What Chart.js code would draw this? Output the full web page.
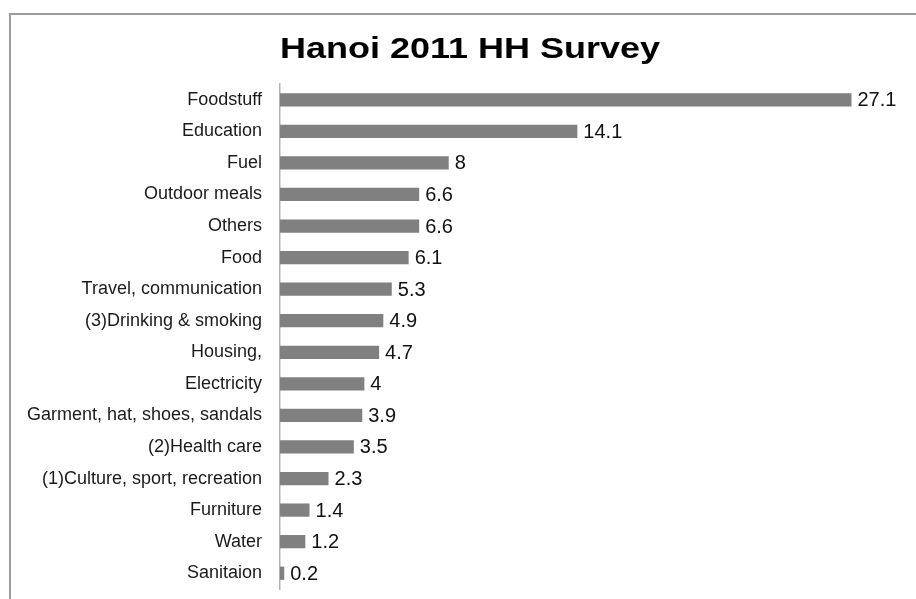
<!DOCTYPE html>
<html>
<head>
<meta charset="utf-8">
<title>Hanoi 2011 HH Survey</title>
<script src="https://cdn.jsdelivr.net/npm/chart.js@4.4.1/dist/chart.umd.min.js"></script>
<style>
    html, body { margin: 0; padding: 0; background: #fff; overflow: hidden; }
    .wrap { position: relative; width: 916px; height: 599px; overflow: hidden; }
    .frame {
        position: absolute; left: 9px; top: 13px; right: -10px; bottom: -10px;
        border: 2px solid #9c9c9c;
    }
    #surveyChart { position: absolute; left: 0; top: 0; }
</style>
</head>
<body>
<div class="wrap">
    <div class="frame"></div>
    <canvas id="surveyChart" width="916" height="599"></canvas>
</div>
<script>
// Expenditure shares by item (percent)
const titleText = 'Hanoi 2011 HH Survey';
const categories = [
    'Foodstuff', 'Education', 'Fuel', 'Outdoor meals', 'Others', 'Food',
    'Travel, communication', '(3)Drinking & smoking', 'Housing,', 'Electricity',
    'Garment, hat, shoes, sandals', '(2)Health care', '(1)Culture, sport, recreation',
    'Furniture', 'Water', 'Sanitaion'
];
const shares = [27.1, 14.1, 8, 6.6, 6.6, 6.1, 5.3, 4.9, 4.7, 4, 3.9, 3.5, 2.3, 1.4, 1.2, 0.2];
const axisMin = 0;
const axisMax = 29.4;

const FONT = "'Liberation Sans', Arial, sans-serif";

// Title is drawn stretched a little wider than the plain bold face
const stretchedTitle = {
    id: 'stretchedTitle',
    afterDraw(chart) {
        const ctx = chart.ctx;
        ctx.save();
        ctx.translate(470, 58);
        ctx.scale(1.2, 1);
        ctx.font = 'bold 30px ' + FONT;
        ctx.fillStyle = '#000';
        ctx.textAlign = 'center';
        ctx.textBaseline = 'alphabetic';
        ctx.fillText(titleText, 0, 0);
        ctx.restore();
    }
};

// Value printed just past the end of each bar
const barValues = {
    id: 'barValues',
    afterDatasetsDraw(chart) {
        const ctx = chart.ctx;
        const meta = chart.getDatasetMeta(0);
        ctx.save();
        ctx.font = '20px ' + FONT;
        ctx.fillStyle = '#111';
        ctx.textAlign = 'left';
        ctx.textBaseline = 'middle';
        meta.data.forEach((bar, i) => {
            ctx.fillText(String(shares[i]), bar.x + 6, bar.y + 1);
        });
        ctx.restore();
    }
};

new Chart(document.getElementById('surveyChart').getContext('2d'), {
    type: 'bar',
    data: {
        labels: categories,
        datasets: [{
            data: shares,
            backgroundColor: '#808080',
            borderWidth: 0,
            categoryPercentage: 1,
            barPercentage: 0.42
        }]
    },
    options: {
        indexAxis: 'y',
        responsive: false,
        animation: false,
        layout: { padding: { top: 84, right: 16, bottom: 10, left: 0 } },
        plugins: {
            legend: { display: false },
            title: { display: false },
            tooltip: { enabled: false }
        },
        scales: {
            x: {
                display: false,
                min: axisMin,
                max: axisMax
            },
            y: {
                afterFit(scale) {
                    // fixed label column, and no extra room around first/last label
                    scale.width = 280;
                    scale.paddingTop = 0;
                    scale.paddingBottom = 0;
                },
                grid: { display: false, drawTicks: false },
                border: { display: true, color: '#b4b4b4', width: 1.5 },
                ticks: {
                    padding: 18,
                    color: '#1a1a1a',
                    font: { family: FONT, size: 18 }
                }
            }
        }
    },
    plugins: [stretchedTitle, barValues]
});
</script>
</body>
</html>
